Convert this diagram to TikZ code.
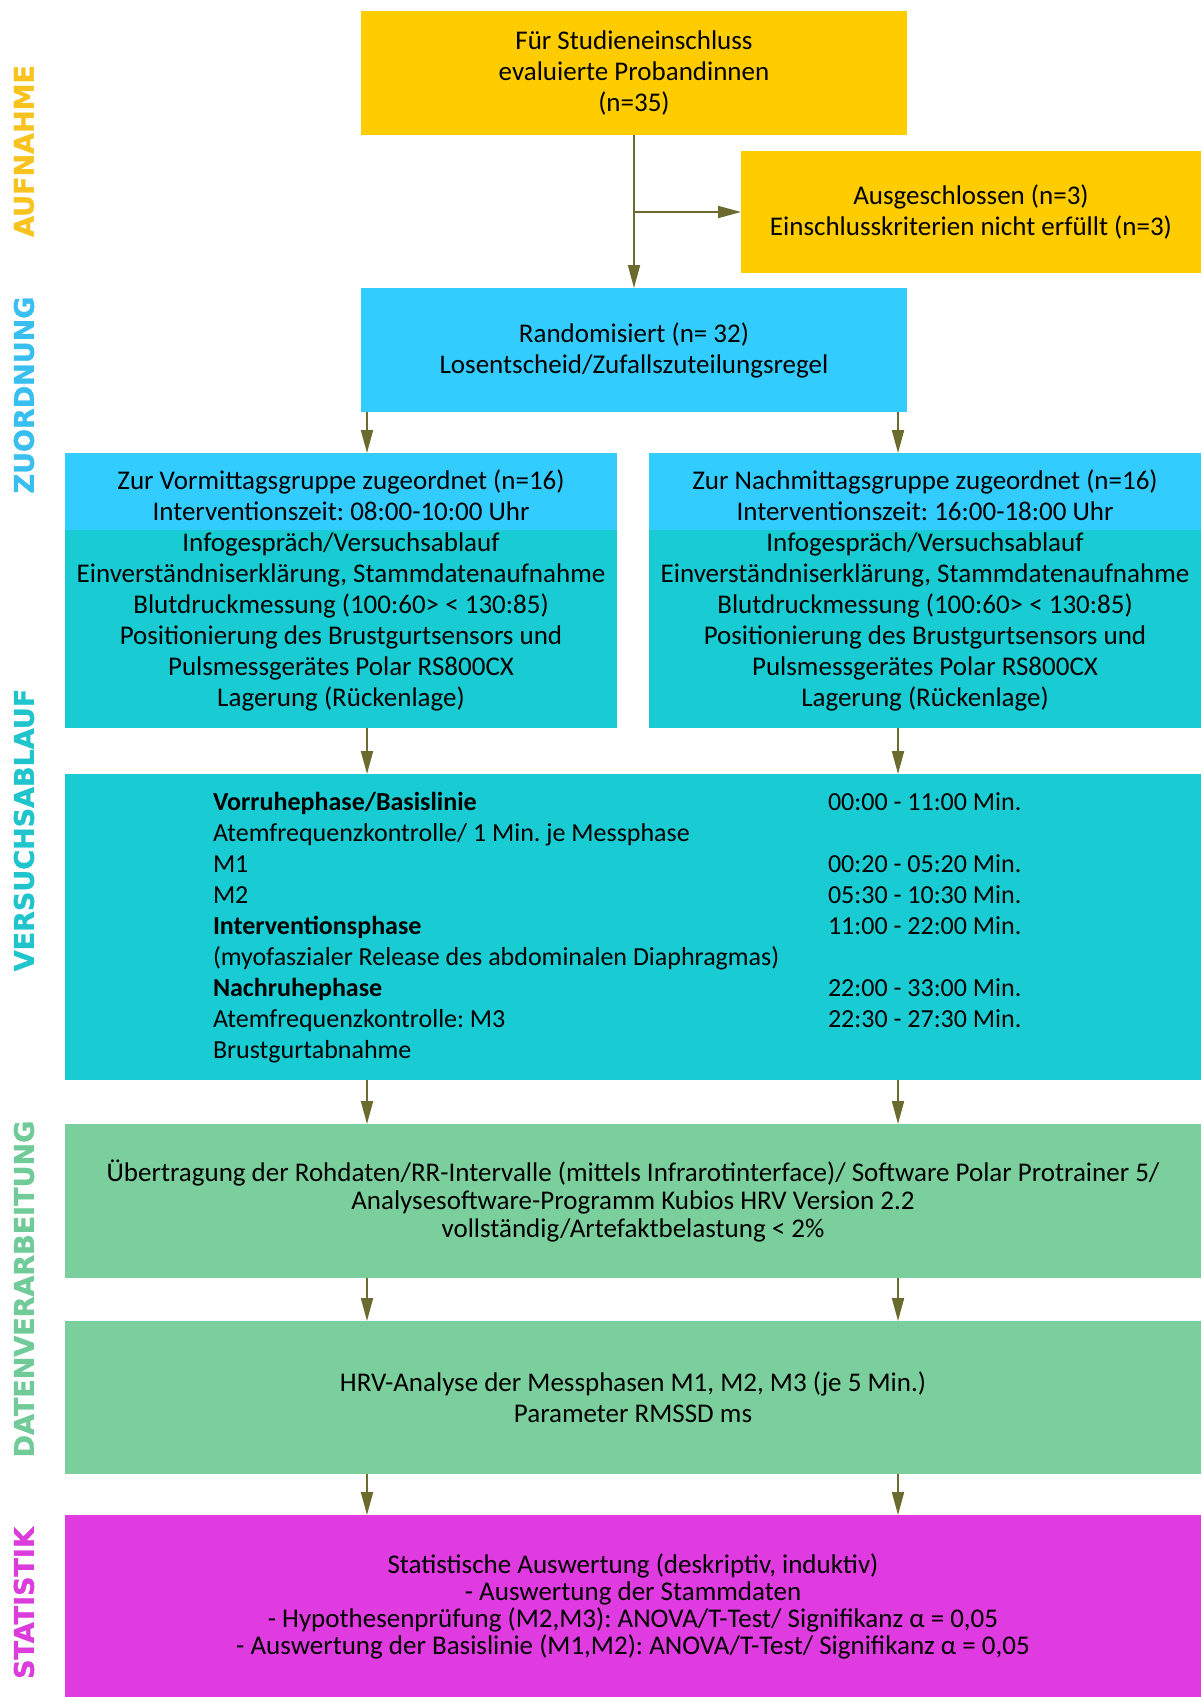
\documentclass[tikz,border=0pt]{standalone}
\usepackage{fontspec}
\setmainfont{Carlito}
\newfontfamily\sidefont{DejaVu Sans}[BoldFeatures={FakeBold=1.2}]
\usetikzlibrary{arrows.meta}

\definecolor{yelbox}{HTML}{FFCC00}
\definecolor{bluebox}{HTML}{33CCFF}
\definecolor{tealbox}{HTML}{19CCD3}
\definecolor{greenbox}{HTML}{7BCF9D}
\definecolor{magbox}{HTML}{E03BE0}
\definecolor{arrowc}{HTML}{6B6B2F}
\definecolor{yellab}{HTML}{F9C31F}
\definecolor{bluelab}{HTML}{38BFF0}
\definecolor{teallab}{HTML}{20C4CC}
\definecolor{greenlab}{HTML}{70CB99}
\definecolor{maglab}{HTML}{DB3CDB}

\begin{document}
\begin{tikzpicture}[x=0.5pt,y=-0.5pt,
  box/.style={inner sep=0pt, outer sep=0pt, align=center, font=\fontsize{13.5}{15.5}\selectfont\frenchspacing},
  grp/.style={box, fill=tealbox, minimum width=276pt, minimum height=137.5pt,
    path picture={\fill[bluebox] (path picture bounding box.north west) rectangle ([yshift=-38.5pt]path picture bounding box.north east);}},
  wide/.style={box, minimum width=568pt},
  side/.style={rotate=90, inner sep=0pt, font=\sidefont\bfseries\fontsize{13.5}{15}\selectfont},
  arr/.style={draw=arrowc, line width=1pt, -{Triangle[length=11.5pt,width=6pt]}}]
  \useasboundingbox (0,0) rectangle (1201,1697);

  % Draw the phase labels on the left side
  \node[side, text=yellab] (lab1) at (24,151) {AUFNAHME};
  \node[side, text=bluelab] (lab2) at (24,395) {ZUORDNUNG};
  \node[side, text=teallab] (lab3) at (24,830) {VERSUCHSABLAUF};
  \node[side, text=greenlab] (lab4) at (24,1289) {DATENVERARBEITUNG};
  \node[side, text=maglab] (lab5) at (24,1603) {STATISTIK};

  % Draw the intake box and the excluded box
  \node[box, fill=yelbox, minimum width=273pt, minimum height=62pt] (intake) at (634,73)
    {Für Studieneinschluss\\evaluierte Probandinnen\\(n=35)};
  \node[box, fill=yelbox, minimum width=230pt, minimum height=61pt] (excl) at (971,212)
    {Ausgeschlossen (n=3)\\Einschlusskriterien nicht erfüllt (n=3)};

  % Draw the randomisation box
  \node[box, fill=bluebox, minimum width=273pt, minimum height=62pt] (rand) at (634,350)
    {Randomisiert (n= 32)\\Losentscheid/Zufallszuteilungsregel};

  % Draw the two groups
  \node[grp] (amBox) at (341,590.5)
    {Zur Vormittagsgruppe zugeordnet (n=16)\\Interventionszeit: 08:00-10:00 Uhr\\
     Infogespräch/Versuchsablauf\\Einverständniserklärung, Stammdatenaufnahme\\
     Blutdruckmessung (100:60> < 130:85)\\Positionierung des Brustgurtsensors und\\
     Pulsmessgerätes Polar RS800CX\\Lagerung (Rückenlage)};
  \node[grp] (pmBox) at (925,590.5)
    {Zur Nachmittagsgruppe zugeordnet (n=16)\\Interventionszeit: 16:00-18:00 Uhr\\
     Infogespräch/Versuchsablauf\\Einverständniserklärung, Stammdatenaufnahme\\
     Blutdruckmessung (100:60> < 130:85)\\Positionierung des Brustgurtsensors und\\
     Pulsmessgerätes Polar RS800CX\\Lagerung (Rückenlage)};

  % Draw the procedure box with its two columns
  \node[wide, fill=tealbox, minimum height=153pt] (flow) at (633,927) {};
  \node[box, anchor=west, font=\fontsize{13}{15.5}\selectfont\frenchspacing] (flowtxt) at (213,928) {%
    \begin{tabular}{@{}p{307.5pt}@{}l@{}}
      \textbf{Vorruhephase/Basislinie} & 00:00 - 11:00 Min.\\
      Atemfrequenzkontrolle/ 1 Min. je Messphase & \\
      M1 & 00:20 - 05:20 Min.\\
      M2 & 05:30 - 10:30 Min.\\
      \textbf{Interventionsphase} & 11:00 - 22:00 Min.\\
      (myofaszialer Release des abdominalen Diaphragmas) & \\
      \textbf{Nachruhephase} & 22:00 - 33:00 Min.\\
      Atemfrequenzkontrolle: M3 & 22:30 - 27:30 Min.\\
      Brustgurtabnahme &
    \end{tabular}};

  % Draw the data processing boxes
  \node[wide, fill=greenbox, minimum height=77pt, font=\fontsize{13.5}{14}\selectfont\frenchspacing] (prep) at (633,1201)
    {Übertragung der Rohdaten/RR-Intervalle (mittels Infrarotinterface)/ Software Polar Protrainer 5/\\
     Analysesoftware-Programm Kubios HRV Version 2.2\\vollständig/Artefaktbelastung < 2\%};
  \node[wide, fill=greenbox, minimum height=76.5pt] (hrv) at (633,1397.5)
    {HRV-Analyse der Messphasen M1, M2, M3 (je 5 Min.)\\Parameter RMSSD ms};

  % Draw the statistics box
  \node[wide, fill=magbox, minimum height=91pt, font=\fontsize{13.5}{13.5}\selectfont\frenchspacing] (stat) at (633,1606)
    {Statistische Auswertung (deskriptiv, induktiv)\\- Auswertung der Stammdaten\\
     - Hypothesenprüfung (M2,M3): ANOVA/T-Test/ Signifikanz α = 0,05\\
     - Auswertung der Basislinie (M1,M2): ANOVA/T-Test/ Signifikanz α = 0,05};

  % Draw the arrows
  \coordinate (lx) at (367,0);
  \coordinate (rx) at (898,0);
  \draw[arr] (intake.south) -- (rand.north);
  \draw[arr] (intake.south |- excl.west) -- (excl.west);
  \foreach \c in {lx,rx} {
    \draw[arr] (rand.south -| \c) -- (amBox.north -| \c);
    \draw[arr] (amBox.south -| \c) -- (flow.north -| \c);
    \draw[arr] (flow.south -| \c) -- (prep.north -| \c);
    \draw[arr] (prep.south -| \c) -- (hrv.north -| \c);
    \draw[arr] (hrv.south -| \c) -- (stat.north -| \c);
  }
\end{tikzpicture}
\end{document}
